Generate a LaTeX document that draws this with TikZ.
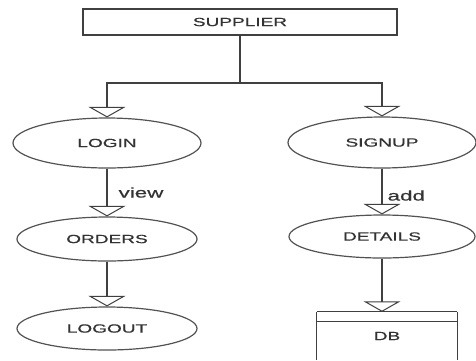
\documentclass[tikz,border=0pt]{standalone}
\usepackage{fontspec}
\newfontfamily\wide[FakeStretch=1.6,FakeBold=0.6]{Liberation Sans}
\usetikzlibrary{shapes.geometric,arrows.meta}
\begin{document}
\begin{tikzpicture}[x=1pt,y=-1pt,
  ln/.style={draw=black!75,line width=1.2pt},
  arr/.style={ln,-{Triangle[open,width=37pt,length=10.5pt,line width=1pt]}},
  ell/.style={ellipse,ln,draw=black!68,inner sep=0pt,font=\wide\fontsize{11.9}{12}\selectfont,text=black!80},
  lbl/.style={font=\wide\fontsize{14}{14}\selectfont,text=black!80,inner sep=0pt,anchor=west}]
\useasboundingbox[fill=white] (0,0) rectangle (476,360);
\node[ln,rectangle,minimum width=314pt,minimum height=26pt,inner sep=0pt,
  font=\wide\fontsize{11.9}{12}\selectfont,text=black!80] (sup) at (240,22) {SUPPLIER};
\node[ell,minimum width=188pt,minimum height=50pt] (login) at (107,143) {LOGIN};
\node[ell,minimum width=188pt,minimum height=51pt] (signup) at (382,142.5) {SIGNUP};
\node[ell,minimum width=180pt,minimum height=44pt] (orders) at (107,239) {ORDERS};
\node[ell,minimum width=186pt,minimum height=43pt] (details) at (382,236.5) {DETAILS};
\node[ell,minimum width=180pt,minimum height=43pt] (logout) at (107,328.5) {LOGOUT};
\node[rectangle,inner sep=0pt,minimum width=140pt,minimum height=48pt,
  font=\wide\fontsize{11.9}{12}\selectfont,text=black!80] (db) at (387,336) {DB};
\draw[ln] (db.north west) -- (db.north east);
\draw[ln] ([yshift=-10pt]db.north west) -- ([yshift=-10pt]db.north east);
\draw[ln] (db.north west) -- (db.south west);
\draw[ln] (db.north east) -- (db.south east);
\coordinate (j) at (240,83);
\draw[ln] (sup.south) -- (j);
\draw[arr] (j) -| (login.north);
\draw[arr] (j) -| (signup.north);
\draw[arr] (login.south) -- node[lbl,xshift=11pt] (v) {view} (orders.north);
\draw[arr] (signup.south) -- node[lbl,xshift=5pt,yshift=-4pt] (a) {add} (details.north);
\draw[arr] (orders.south) -- (logout.north);
\draw[arr] (details.south) -- (details.south |- db.north);
\end{tikzpicture}
\end{document}
